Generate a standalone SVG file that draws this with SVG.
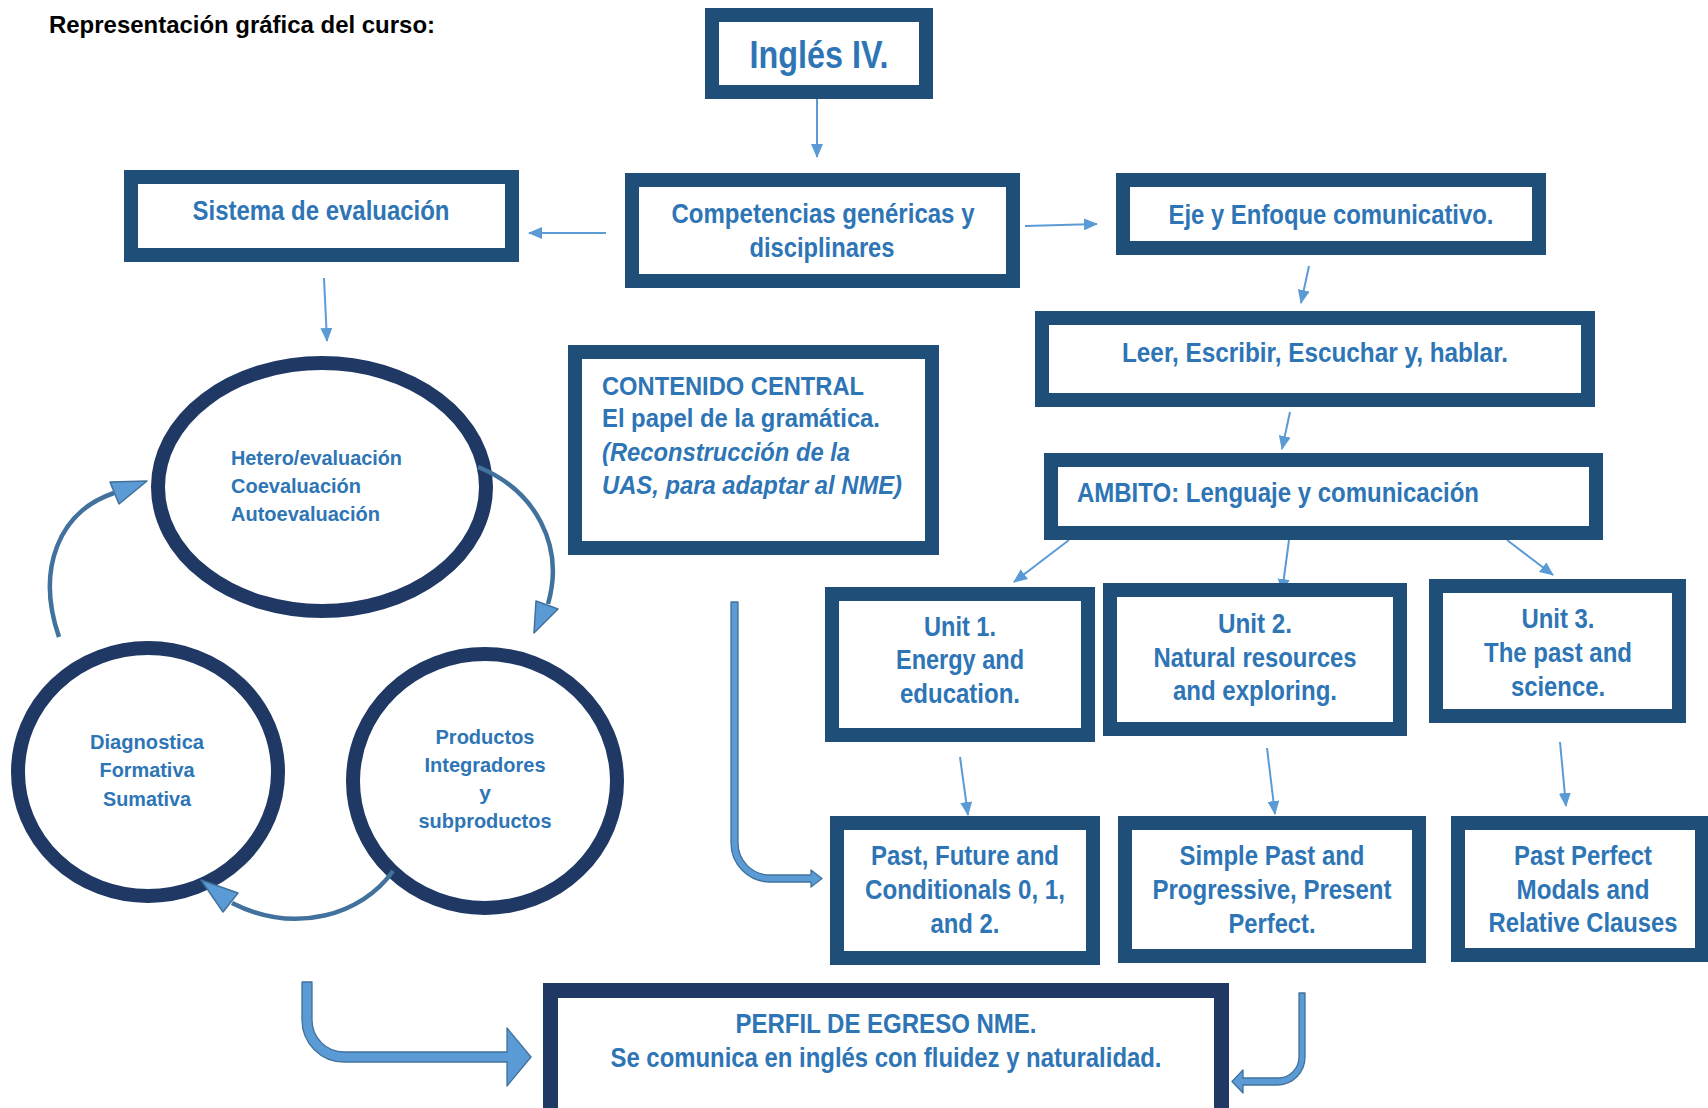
<svg xmlns="http://www.w3.org/2000/svg" width="1708" height="1108" viewBox="0 0 1708 1108">
<style>
.box{fill:#fff;stroke:#1F4E79;stroke-width:14}
.box2{fill:#fff;stroke:#203864;stroke-width:15}
.circ{fill:#fff;stroke:#1F3864;stroke-width:14}
.t{font-family:"Liberation Sans Narrow","Liberation Sans",Arial,sans-serif;font-weight:bold;fill:#2E75B6;font-size:28px}
.big{font-size:39px}
.c{text-anchor:middle}
.cc{font-family:"Liberation Sans",Arial,sans-serif;font-weight:bold;fill:#2E75B6;font-size:25px}
.ct{font-family:"Liberation Sans",Arial,sans-serif;font-weight:bold;fill:#2E75B6;font-size:21px}
.thin{fill:none;stroke:#5B9BD5;stroke-width:2}
.arc{fill:none;stroke:#41719C;stroke-width:4.5}
.head{fill:#5B9BD5;stroke:#41719C;stroke-width:1.5;stroke-linejoin:round}
.bent{fill:#5B9BD5;stroke:#41719C;stroke-width:1.3;stroke-linejoin:round}
</style>
<defs>
<marker id="ah" viewBox="0 0 14 12" refX="13" refY="6" markerWidth="14" markerHeight="12" markerUnits="userSpaceOnUse" orient="auto">
<path d="M0,0 L14,6 L0,12 z" fill="#5B9BD5"/>
</marker>
<clipPath id="clipL"><rect x="11" y="0" width="1697" height="1108"/></clipPath>
</defs>
<rect width="1708" height="1108" fill="#fff"/>

<text x="49" y="33" font-family="'Liberation Sans',Arial,sans-serif" font-weight="bold" font-size="24" fill="#000" textLength="386" lengthAdjust="spacingAndGlyphs">Representación gráfica del curso:</text>

<g id="connectors">
<line class="thin" x1="817" y1="88" x2="817" y2="157" marker-end="url(#ah)"/>
<line class="thin" x1="606" y1="233" x2="529" y2="233" marker-end="url(#ah)"/>
<line class="thin" x1="1025" y1="226" x2="1097" y2="224" marker-end="url(#ah)"/>
<line class="thin" x1="1309" y1="266" x2="1301" y2="303" marker-end="url(#ah)"/>
<line class="thin" x1="1290" y1="412" x2="1282" y2="449" marker-end="url(#ah)"/>
<line class="thin" x1="1069" y1="540" x2="1014" y2="582" marker-end="url(#ah)"/>
<line class="thin" x1="1289" y1="540" x2="1282" y2="592" marker-end="url(#ah)"/>
<line class="thin" x1="1507" y1="540" x2="1553" y2="575" marker-end="url(#ah)"/>
<line class="thin" x1="960" y1="757" x2="968" y2="815" marker-end="url(#ah)"/>
<line class="thin" x1="1267" y1="748" x2="1275" y2="814" marker-end="url(#ah)"/>
<line class="thin" x1="1560" y1="742" x2="1566" y2="806" marker-end="url(#ah)"/>
<line class="thin" x1="324" y1="278" x2="327" y2="341" marker-end="url(#ah)"/>
<path class="bent" d="M731,602 L738,602 L738,843 A32,32 0 0 0 770,875 L811,875 L811,870 L822,878.5 L811,887 L811,882 L770,882 A39,39 0 0 1 731,843 Z"/>
<path class="bent" d="M302,982 L312,982 L312,1020 A32,32 0 0 0 344,1052 L507,1052 L507,1028 L531,1057 L507,1086 L507,1062 L344,1062 A42,42 0 0 1 302,1020 Z"/>
<path class="bent" d="M1299,993 L1305,993 L1305,1057 A28,28 0 0 1 1278,1085 L1243,1085 L1243,1093 L1232,1081.5 L1243,1070 L1243,1078 L1278,1078 A21,21 0 0 0 1299,1057 Z"/>
</g>

<g id="n-ingles">
<rect class="box" x="712" y="15" width="214" height="77"/>
<text class="t big c" x="819" y="68" textLength="139" lengthAdjust="spacingAndGlyphs">Inglés IV.</text>
</g>
<g id="n-competencias">
<rect class="box" x="632" y="180" width="381" height="101"/>
<text class="t c" x="823" y="223" textLength="303" lengthAdjust="spacingAndGlyphs">Competencias genéricas y</text>
<text class="t c" x="822" y="257" textLength="145" lengthAdjust="spacingAndGlyphs">disciplinares</text>
</g>
<g id="n-sistema">
<rect class="box" x="131" y="177" width="381" height="78"/>
<text class="t c" x="321" y="220" textLength="257" lengthAdjust="spacingAndGlyphs">Sistema de evaluación</text>
</g>
<g id="n-eje">
<rect class="box" x="1123" y="180" width="416" height="68"/>
<text class="t c" x="1331" y="224" textLength="325" lengthAdjust="spacingAndGlyphs">Eje y Enfoque comunicativo.</text>
</g>
<g id="n-leer">
<rect class="box" x="1042" y="318" width="546" height="82"/>
<text class="t c" x="1315" y="362" textLength="386" lengthAdjust="spacingAndGlyphs">Leer, Escribir, Escuchar y, hablar.</text>
</g>
<g id="n-ambito">
<rect class="box" x="1051" y="460" width="545" height="73"/>
<text class="t" x="1077" y="502" textLength="402" lengthAdjust="spacingAndGlyphs">AMBITO: Lenguaje y comunicación</text>
</g>
<g id="n-contenido">
<rect class="box" x="575" y="352" width="357" height="196"/>
<text class="cc" x="602" y="395" textLength="262" lengthAdjust="spacingAndGlyphs">CONTENIDO CENTRAL</text>
<text class="cc" x="602" y="427" textLength="278" lengthAdjust="spacingAndGlyphs">El papel de la gramática.</text>
<text class="cc" x="602" y="461" font-style="italic" textLength="248" lengthAdjust="spacingAndGlyphs">(Reconstrucción de la</text>
<text class="cc" x="602" y="494" font-style="italic" textLength="300" lengthAdjust="spacingAndGlyphs">UAS, para adaptar al NME)</text>
</g>
<g id="n-unit1">
<rect class="box" x="832" y="594" width="256" height="141"/>
<text class="t c" x="960" y="636" textLength="72" lengthAdjust="spacingAndGlyphs">Unit 1.</text>
<text class="t c" x="960" y="669" textLength="128" lengthAdjust="spacingAndGlyphs">Energy and</text>
<text class="t c" x="960" y="703" textLength="120" lengthAdjust="spacingAndGlyphs">education.</text>
</g>
<g id="n-unit2">
<rect class="box" x="1110" y="590" width="290" height="139"/>
<text class="t c" x="1255" y="633" textLength="74" lengthAdjust="spacingAndGlyphs">Unit 2.</text>
<text class="t c" x="1255" y="667" textLength="203" lengthAdjust="spacingAndGlyphs">Natural resources</text>
<text class="t c" x="1255" y="700" textLength="164" lengthAdjust="spacingAndGlyphs">and exploring.</text>
</g>
<g id="n-unit3">
<rect class="box" x="1436" y="586" width="243" height="130"/>
<text class="t c" x="1558" y="628" textLength="73" lengthAdjust="spacingAndGlyphs">Unit 3.</text>
<text class="t c" x="1558" y="662" textLength="148" lengthAdjust="spacingAndGlyphs">The past and</text>
<text class="t c" x="1558" y="696" textLength="94" lengthAdjust="spacingAndGlyphs">science.</text>
</g>
<g id="n-g1">
<rect class="box" x="837" y="823" width="256" height="135"/>
<text class="t c" x="965" y="865" textLength="188" lengthAdjust="spacingAndGlyphs">Past, Future and</text>
<text class="t c" x="965" y="899" textLength="200" lengthAdjust="spacingAndGlyphs">Conditionals 0, 1,</text>
<text class="t c" x="965" y="933" textLength="69" lengthAdjust="spacingAndGlyphs">and 2.</text>
</g>
<g id="n-g2">
<rect class="box" x="1125" y="823" width="294" height="133"/>
<text class="t c" x="1272" y="865" textLength="185" lengthAdjust="spacingAndGlyphs">Simple Past and</text>
<text class="t c" x="1272" y="899" textLength="239" lengthAdjust="spacingAndGlyphs">Progressive, Present</text>
<text class="t c" x="1272" y="933" textLength="87" lengthAdjust="spacingAndGlyphs">Perfect.</text>
</g>
<g id="n-g3">
<rect class="box" x="1458" y="823" width="244" height="132"/>
<text class="t c" x="1583" y="865" textLength="138" lengthAdjust="spacingAndGlyphs">Past Perfect</text>
<text class="t c" x="1583" y="899" textLength="133" lengthAdjust="spacingAndGlyphs">Modals and</text>
<text class="t c" x="1583" y="932" textLength="189" lengthAdjust="spacingAndGlyphs">Relative Clauses</text>
</g>
<g id="n-perfil">
<rect class="box2" x="550.5" y="990.5" width="671" height="125"/>
<text class="t c" x="886" y="1033" textLength="301" lengthAdjust="spacingAndGlyphs">PERFIL DE EGRESO NME.</text>
<text class="t c" x="886" y="1067" textLength="551" lengthAdjust="spacingAndGlyphs">Se comunica en inglés con fluidez y naturalidad.</text>
</g>

<g id="n-hetero">
<ellipse class="circ" cx="322" cy="487" rx="164" ry="124"/>
<text class="ct" x="231" y="465" textLength="171" lengthAdjust="spacingAndGlyphs">Hetero/evaluación</text>
<text class="ct" x="231" y="493" textLength="130" lengthAdjust="spacingAndGlyphs">Coevaluación</text>
<text class="ct" x="231" y="521" textLength="149" lengthAdjust="spacingAndGlyphs">Autoevaluación</text>
</g>
<g id="n-diag" clip-path="url(#clipL)">
<ellipse class="circ" cx="148" cy="772" rx="130" ry="124"/>
<text class="ct c" x="147" y="749" textLength="114" lengthAdjust="spacingAndGlyphs">Diagnostica</text>
<text class="ct c" x="147" y="777" textLength="95" lengthAdjust="spacingAndGlyphs">Formativa</text>
<text class="ct c" x="147" y="806" textLength="88" lengthAdjust="spacingAndGlyphs">Sumativa</text>
</g>
<g id="n-productos">
<ellipse class="circ" cx="485" cy="781" rx="132" ry="127"/>
<text class="ct c" x="485" y="744" textLength="99" lengthAdjust="spacingAndGlyphs">Productos</text>
<text class="ct c" x="485" y="772" textLength="121" lengthAdjust="spacingAndGlyphs">Integradores</text>
<text class="ct c" x="485" y="800">y</text>
<text class="ct c" x="485" y="828" textLength="133" lengthAdjust="spacingAndGlyphs">subproductos</text>
</g>

<g id="cycle-arrows">
<path class="arc" d="M478,467 C535,490 565,545 548,604"/>
<polygon class="head" points="534,633 536,601 558,609"/>
<path class="arc" d="M393,871 C362,915 295,935 232,903"/>
<polygon class="head" points="201,880 223,912 238,893"/>
<path class="arc" d="M59,637 C36,570 58,512 114,493"/>
<polygon class="head" points="147,481 110,482 119,504"/>
</g>
</svg>
